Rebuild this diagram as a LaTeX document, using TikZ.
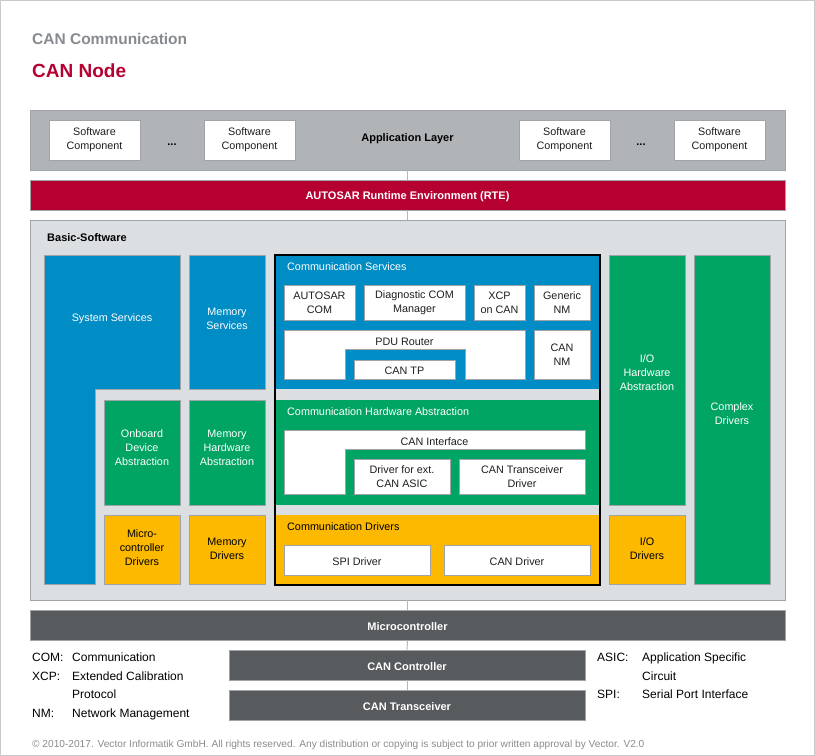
\documentclass[tikz,border=0pt]{standalone}
\usepackage{fontspec}
\setmainfont{Liberation Sans}
\usetikzlibrary{fit}
\definecolor{vblue}{RGB}{0,140,196}
\definecolor{vgreen}{RGB}{0,165,99}
\definecolor{vyellow}{RGB}{252,185,0}
\definecolor{vred}{RGB}{182,0,50}
\definecolor{vdark}{RGB}{87,91,94}
\definecolor{vapp}{RGB}{177,180,183}
\definecolor{vbsw}{RGB}{220,223,226}
\definecolor{vborder}{RGB}{160,164,168}
\definecolor{vtitle}{RGB}{135,139,143}
\definecolor{vtext}{RGB}{30,30,30}
\definecolor{vframe}{RGB}{200,203,206}
\definecolor{vline}{RGB}{180,183,186}
\begin{document}
\begin{tikzpicture}[x=1pt,y=-1pt,
  blk/.style={draw=vborder, line width=0.8pt, inner sep=0pt, fill=#1},
  blk/.default=white,
  shp/.style={draw=vborder, line width=0.8pt, fill=#1},
  shp/.default=white,
  txt/.style={font=\fontsize{10.8}{14}\selectfont, align=center, inner sep=0pt, text=vtext, yshift=-1.5pt},
  wtxt/.style={txt, text=white},
  btxt/.style={font=\fontsize{11}{14}\selectfont\bfseries, align=center, inner sep=0pt, text=#1, yshift=-1.5pt},
  btxt/.default=black,
  ltxt/.style={txt, anchor=west, text height=7.5pt, text depth=2pt},
  lgd/.style={font=\fontsize{12}{14}\selectfont, anchor=west, inner sep=0pt, text=black, text height=8.5pt, text depth=2.5pt, yshift=-1pt},
  conn/.style={draw=vline, line width=1pt}
]
\useasboundingbox (0,0) rectangle (815,756);
\draw[vframe, line width=1pt] (0.5,0.5) rectangle (814.5,755.5);

% titles
\node[font=\fontsize{15.5}{18}\selectfont\bfseries, text=vtitle, anchor=west, inner sep=0pt] (title1) at (32,39) {CAN Communication};
\node[font=\fontsize{19}{22}\selectfont\bfseries, text=vred, anchor=west, inner sep=0pt] (title2) at (32,71) {CAN Node};

% application layer
\node[blk=vapp, fit={(30,110)(785,170)}] (app) {};
\node[blk, fit={(49,120)(140,160)}] (sw1) {};
\node[blk, fit={(204,120)(295,160)}] (sw2) {};
\node[blk, fit={(519,120)(610,160)}] (sw3) {};
\node[blk, fit={(674,120)(765,160)}] (sw4) {};
\node[txt] (sw1t) at (94.5,138) {Software\\Component};
\node[txt] (sw2t) at (249.5,138) {Software\\Component};
\node[txt] (sw3t) at (564.5,138) {Software\\Component};
\node[txt] (sw4t) at (719.5,138) {Software\\Component};
\node[btxt] (dots1) at (172,143) {...};
\node[btxt] (dots2) at (641,143) {...};
\node[btxt] (appt) at (407.5,137) {Application Layer};

% RTE
\node[blk=vred, fit={(30,180)(785,210)}] (rte) {};
\node[btxt=white] (rtet) at (407.5,195) {AUTOSAR Runtime Environment (RTE)};

% basic software
\node[blk=vbsw, fit={(30,220)(785,600)}] (bsw) {};
\node[btxt, anchor=west, text height=8pt, text depth=2pt] (bswt) at (47,237) {Basic-Software};

% left column
\path[shp=vblue] (44,255) -- (180,255) -- (180,389) -- (95,389) -- (95,584) -- (44,584) -- cycle;
\node[wtxt] (syst) at (112,317) {System Services};
\node[blk=vblue, fit={(189,255)(265,389)}] (memsrv) {};
\node[wtxt] (memsrvt) at (227,317) {Memory\\Services};
\node[blk=vgreen, fit={(104,400)(180,505)}] (obda) {};
\node[wtxt] (obdat) at (142,446) {Onboard\\Device\\Abstraction};
\node[blk=vgreen, fit={(189,400)(265,505)}] (memhw) {};
\node[wtxt] (memhwt) at (227,446) {Memory\\Hardware\\Abstraction};
\node[blk=vyellow, fit={(104,515)(180,584)}] (mcdrv) {};
\node[txt, text=black] (mcdrvt) at (142,546) {Micro-\\controller\\Drivers};
\node[blk=vyellow, fit={(189,515)(265,584)}] (memdrv) {};
\node[txt, text=black] (memdrvt) at (227,547) {Memory\\Drivers};

% communication stack
\fill[vblue] (275,255) rectangle (600,389);
\fill[vgreen] (275,400) rectangle (600,505);
\fill[vyellow] (275,515) rectangle (600,585);
\draw[black, line width=1.6pt] (275,255) rectangle (600,585);
\node[ltxt, text=white] (cst) at (287,266) {Communication Services};
\node[ltxt, text=white] (chat) at (287,411) {Communication Hardware Abstraction};
\node[ltxt, text=black] (cdt) at (287,526) {Communication Drivers};

\node[blk, fit={(284,285)(355,320)}] (acom) {};
\node[txt] (acomt) at (319.5,301) {AUTOSAR\\COM};
\node[blk, fit={(364,285)(465,320)}] (dcm) {};
\node[txt] (dcmt) at (414.5,301) {Diagnostic COM\\Manager};
\node[blk, fit={(474,285)(525,320)}] (xcp) {};
\node[txt] (xcpt) at (499.5,301) {XCP\\on CAN};
\node[blk, fit={(534,285)(590,320)}] (gnm) {};
\node[txt] (gnmt) at (562,301) {Generic\\NM};
\path[shp] (284,330) -- (525,330) -- (525,379) -- (465,379) -- (465,349) -- (345,349) -- (345,379) -- (284,379) -- cycle;
\node[txt] (pdut) at (404.5,340) {PDU Router};
\node[blk, fit={(354,360)(455,379)}] (cantp) {};
\node[txt] (cantpt) at (404.5,369.5) {CAN TP};
\node[blk, fit={(534,330)(590,379)}] (cannm) {};
\node[txt] (cannmt) at (562,353) {CAN\\NM};

\path[shp] (284,430) -- (585,430) -- (585,449) -- (345,449) -- (345,494) -- (284,494) -- cycle;
\node[txt] (canift) at (434.5,440) {CAN Interface};
\node[blk, fit={(354,459)(450,494)}] (asic) {};
\node[txt] (asict) at (402,475) {Driver for ext.\\CAN ASIC};
\node[blk, fit={(459,459)(585,494)}] (trcv) {};
\node[txt] (trcvt) at (522,475) {CAN Transceiver\\Driver};

\node[blk, fit={(284,545)(430,575)}] (spi) {};
\node[txt] (spit) at (357,560) {SPI Driver};
\node[blk, fit={(444,545)(590,575)}] (candrv) {};
\node[txt] (candrvt) at (517,560) {CAN Driver};

% right column
\node[blk=vgreen, fit={(609,255)(685,505)}] (iohw) {};
\node[wtxt] (iohwt) at (647,371) {I/O\\Hardware\\Abstraction};
\node[blk=vyellow, fit={(609,515)(685,584)}] (iodrv) {};
\node[txt, text=black] (iodrvt) at (647,547) {I/O\\Drivers};
\node[blk=vgreen, fit={(694,255)(770,584)}] (cdd) {};
\node[wtxt] (cddt) at (732,412) {Complex\\Drivers};

% hardware
\node[blk=vdark, fit={(30,610)(785,640)}] (mc) {};
\node[btxt=white] (mct) at (407.5,625) {Microcontroller};
\node[blk=vdark, fit={(229,650)(585,680)}] (canc) {};
\node[btxt=white] (canct) at (407,665) {CAN Controller};
\node[blk=vdark, fit={(229,690)(585,720)}] (cant) {};
\node[btxt=white] (cantt) at (407,705) {CAN Transceiver};

% connectors
\draw[conn] (app.south) -- (rte.north);
\draw[conn] (rte.south) -- (bsw.north);
\draw[conn] (bsw.south) -- (mc.north);
\draw[conn] (mc.south) -- (canc.north);
\draw[conn] (canc.south) -- (cant.north);

% legend
\node[lgd] (l1a) at (32,657) {COM:};
\node[lgd] (l1b) at (72,657) {Communication};
\node[lgd] (l2a) at (32,676) {XCP:};
\node[lgd] (l2b) at (72,676) {Extended Calibration};
\node[lgd] (l3b) at (72,694) {Protocol};
\node[lgd] (l4a) at (32,713) {NM:};
\node[lgd] (l4b) at (72,713) {Network Management};
\node[lgd] (r1a) at (597,657) {ASIC:};
\node[lgd] (r1b) at (642,657) {Application Specific};
\node[lgd] (r2b) at (642,676) {Circuit};
\node[lgd] (r3a) at (597,694) {SPI:};
\node[lgd] (r3b) at (642,694) {Serial Port Interface};

% footer
\node[font=\fontsize{10.15}{12}\selectfont, text=vtitle, anchor=west, inner sep=0pt, text height=7.5pt, text depth=2pt] (foot) at (32,744.5) {© 2010-2017. Vector Informatik GmbH. All rights reserved. Any distribution or copying is subject to prior written approval by Vector. V2.0};
\end{tikzpicture}
\end{document}
